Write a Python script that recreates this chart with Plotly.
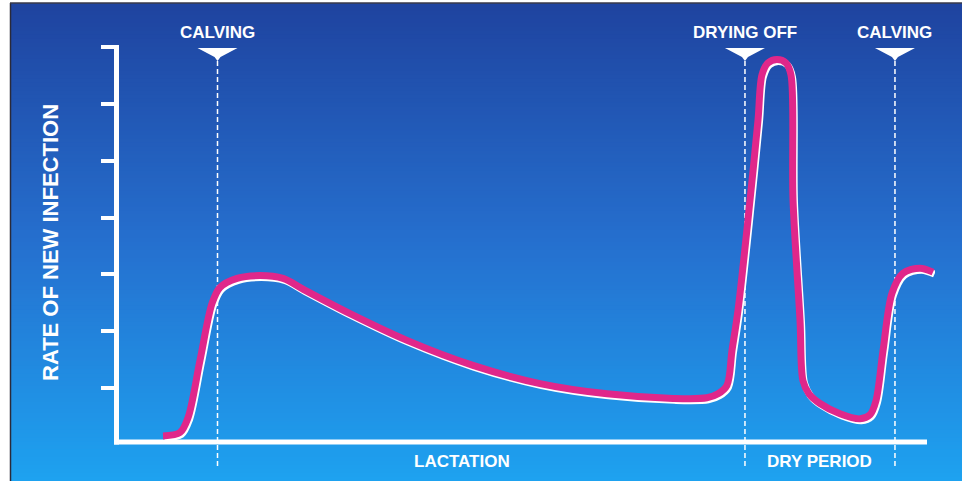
import plotly.graph_objects as go

# ---- data (arbitrary time units 0-100, rate units 0-7) ----
curve_x = [5.51, 7.59, 8.57, 10.04, 11.51, 12.48, 14.57, 17.38, 20.20, 22.64,
           28.40, 35.37, 43.45, 51.65, 59.85, 67.93, 72.09, 73.44, 74.54, 75.15,
           75.89, 77.36, 78.34, 78.82, 79.56, 80.66, 81.76, 82.37, 82.62, 83.48,
           83.84, 84.58, 85.92, 88.37, 90.82, 92.04, 92.78, 93.64, 94.74, 96.08,
           98.16, 99.76]
curve_y = [0.16, 0.22, 0.48, 1.49, 2.49, 2.77, 2.93, 2.98, 2.93, 2.74,
           2.31, 1.84, 1.40, 1.08, 0.90, 0.82, 0.83, 0.90, 1.05, 1.66,
           2.37, 4.31, 5.72, 6.51, 6.72, 6.78, 6.72, 6.51, 4.31, 2.19,
           1.13, 0.90, 0.73, 0.55, 0.46, 0.53, 0.78, 1.66, 2.67, 3.02,
           3.11, 3.04]
event_labels = ["CALVING", "DRYING OFF", "CALVING"]
event_x = [12.18, 76.74, 95.10]
phase_labels = ["LACTATION", "DRY PERIOD"]
phase_x = [42.1, 85.9]
y_tickvals = [1, 2, 3, 4, 5, 6, 7]
y_title = "RATE OF NEW INFECTION"

W, H = 962, 481
L, R, T, B = 118, 27, 47, 36
PW, PH = W - L - R, H - T - B

def px2paper_x(px):
    return (px - L) / PW

def py2paper_y(py):
    return (H - B - py) / PH

MAGENTA = "#e0278a"

fig = go.Figure()
# white shadow under the magenta curve
fig.add_trace(go.Scatter(x=[v + 0.18 for v in curve_x], y=[v - 0.035 for v in curve_y],
                         mode="lines", line=dict(color="white", width=7, shape="spline", smoothing=0.9),
                         hoverinfo="skip", showlegend=False))
fig.add_trace(go.Scatter(x=curve_x, y=curve_y, mode="lines",
                         line=dict(color=MAGENTA, width=7, shape="spline", smoothing=0.9),
                         showlegend=False))

shapes = []
# background gradient
top_c = (31, 68, 160)
mid_c = (38, 112, 207)
bot_c = (30, 162, 240)
y_start, y_end = 3, 481
n = 120
for i in range(n):
    t = i / (n - 1)
    if t < 0.5:
        u = t / 0.5
        c = [int(top_c[k] + (mid_c[k] - top_c[k]) * u) for k in range(3)]
    else:
        u = (t - 0.5) / 0.5
        c = [int(mid_c[k] + (bot_c[k] - mid_c[k]) * u) for k in range(3)]
    py0 = y_start + (y_end - y_start) * i / n
    py1 = y_start + (y_end - y_start) * (i + 1) / n + 0.8
    shapes.append(dict(type="rect", xref="paper", yref="paper", layer="below",
                       x0=px2paper_x(10), x1=px2paper_x(W + 2),
                       y0=py2paper_y(py1), y1=py2paper_y(py0),
                       line=dict(width=0), fillcolor=f"rgb({c[0]},{c[1]},{c[2]})"))
# frame lines
shapes.append(dict(type="line", xref="paper", yref="paper", layer="below",
                   x0=px2paper_x(10.5), x1=px2paper_x(10.5), y0=py2paper_y(3), y1=py2paper_y(H),
                   line=dict(color="#2a2a3a", width=1.5)))
shapes.append(dict(type="line", xref="paper", yref="paper", layer="below",
                   x0=px2paper_x(10), x1=px2paper_x(W), y0=py2paper_y(3), y1=py2paper_y(3),
                   line=dict(color="#3a3a4a", width=1.5)))
# axes
shapes.append(dict(type="line", xref="paper", yref="paper", layer="below",
                   x0=px2paper_x(116.5), x1=px2paper_x(116.5),
                   y0=py2paper_y(444.5), y1=py2paper_y(45),
                   line=dict(color="white", width=5)))
shapes.append(dict(type="line", xref="paper", yref="paper", layer="below",
                   x0=px2paper_x(114), x1=px2paper_x(927),
                   y0=py2paper_y(442), y1=py2paper_y(442),
                   line=dict(color="white", width=5)))
# event dashed lines and triangles
for ex in event_x:
    shapes.append(dict(type="line", xref="x", yref="paper", layer="below",
                       x0=ex, x1=ex, y0=py2paper_y(466), y1=py2paper_y(58),
                       line=dict(color="white", width=1.5, dash="5px,3px")))
    shapes.append(dict(type="path", xref="x", yref="paper", xsizemode="pixel", ysizemode="pixel",
                       xanchor=ex, yanchor=py2paper_y(48),
                       path="M -20,0 L 20,0 L 3,-9 L 0,-13 L -3,-9 Z",
                       fillcolor="white", line=dict(width=0)))

annotations = []
for lab, ex in zip(event_labels, event_x):
    annotations.append(dict(x=ex, y=py2paper_y(32), xref="x", yref="paper", text=lab,
                            showarrow=False, xanchor="center", yanchor="middle",
                            font=dict(family="Liberation Sans", size=17, color="white", weight=700)))
for lab, pxv in zip(phase_labels, phase_x):
    annotations.append(dict(x=pxv, y=py2paper_y(462), xref="x", yref="paper", text=lab,
                            showarrow=False, xanchor="center", yanchor="middle",
                            font=dict(family="Liberation Sans", size=17, color="white", weight=700)))
annotations.append(dict(x=px2paper_x(50), y=py2paper_y(243), xref="paper", yref="paper",
                        text=y_title, textangle=-90, showarrow=False,
                        xanchor="center", yanchor="middle",
                        font=dict(family="Liberation Sans", size=22,
                                  color="white", weight=700)))

fig.update_layout(
    width=W, height=H,
    margin=dict(l=L, r=R, t=T, b=B, pad=0),
    paper_bgcolor="white", plot_bgcolor="rgba(0,0,0,0)",
    shapes=shapes, annotations=annotations,
    xaxis=dict(range=[0, 100], visible=False, showgrid=False, zeroline=False, fixedrange=True),
    yaxis=dict(range=[0, 7], showgrid=False, zeroline=False, showline=False,
               ticks="outside", ticklen=16, tickwidth=4, tickcolor="white",
               tickvals=y_tickvals, showticklabels=False, fixedrange=True),
    showlegend=False,
)
fig.write_html("out.html", config={"displayModeBar": False},
               post_script="document.body.style.margin='0';document.body.style.overflow='hidden';")
